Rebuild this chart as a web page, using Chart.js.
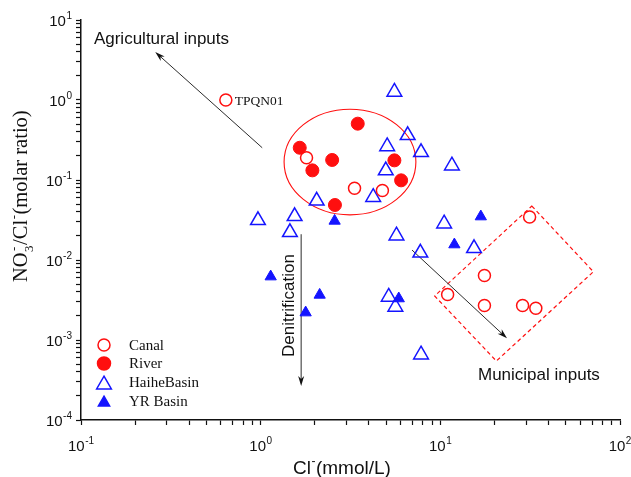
<!DOCTYPE html>
<html>
<head>
<meta charset="utf-8">
<script src="https://cdn.jsdelivr.net/npm/chart.js@4.4.1/dist/chart.umd.min.js"></script>
<style>
  html, body { margin: 0; padding: 0; background: #fff; }
  canvas { display: block; }
</style>
</head>
<body>
<canvas id="ratioChart" width="631" height="477"></canvas>
<script>
// Cl- (mmol/L) vs NO3-/Cl- (molar ratio)
const canalCl    = [0.64, 1.80, 3.33, 4.76, 31.4, 17.6, 10.98, 17.6, 28.7, 34.0];
const canalRatio = [1.0, 0.19, 0.079, 0.074, 0.0345, 0.0064, 0.0037, 0.0027, 0.0027, 0.0025];

const riverCl    = [1.65, 3.47, 2.50, 1.94, 5.55, 6.05, 2.59];
const riverRatio = [0.253, 0.506, 0.178, 0.132, 0.176, 0.099, 0.0487];

const haiheCl    = [5.55, 6.58, 5.06, 7.81, 4.97, 4.23, 2.05, 11.6, 0.966, 1.545, 1.455, 10.5, 5.7, 7.74, 15.4, 5.16, 5.62, 7.81];
const haiheRatio = [1.26, 0.362, 0.263, 0.222, 0.131, 0.061, 0.055, 0.151, 0.0313, 0.0352, 0.0222, 0.0284, 0.0201, 0.0123, 0.0140, 0.00345, 0.00259, 0.000656];

const yrCl    = [2.58, 1.137, 2.13, 1.78, 16.8, 11.97, 5.87];
const yrRatio = [0.0308, 0.0062, 0.00366, 0.0022, 0.0349, 0.0156, 0.0033];

// axis decades and their exponent labels
const xDecades = [0.1, 1, 10, 100];
const xExpLabels = ['-1', '0', '1', '2'];
const yDecades = [1e-4, 1e-3, 1e-2, 1e-1, 1, 10];
const yExpLabels = ['-4', '-3', '-2', '-1', '0', '1'];

// annotations, in data units
const groupEllipse = { x: [1.35, 7.31], y: [0.0367, 0.767] };
const municipalBox = [[32.3, 0.0473], [71.1, 0.00714], [20.5, 0.000546], [9.3, 0.00355]];
const arrows = [
    { from: [1.02, 0.253], to: [0.259, 3.98] },
    { from: [1.68, 0.021], to: [1.68, 0.000266] },
    { from: [6.96, 0.0133], to: [23.5, 0.00105] }
];
const notes = [
    { text: 'Agricultural inputs', at: [0.118, 5.01], font: '17px "Liberation Sans", Arial, sans-serif', rotate: false },
    { text: 'TPQN01', at: [0.717, 0.87], font: '13.5px "Liberation Serif", "Times New Roman", serif', rotate: false },
    { text: 'Municipal inputs', at: [16.2, 0.000316], font: '17px "Liberation Sans", Arial, sans-serif', rotate: false },
    { text: 'Denitrification', at: [1.525, 0.000613], font: '17px "Liberation Sans", Arial, sans-serif', rotate: true }
];

const RED = '#ff0f0f';
const BLUE = '#1414ff';
const SANS = '"Liberation Sans", Arial, sans-serif';
const SERIF = '"Liberation Serif", "Times New Roman", serif';

function pts(xs, ys) {
    return xs.map((x, i) => ({ x: x, y: ys[i] }));
}

function withMinors(decades) {
    const out = [];
    decades.forEach((d, i) => {
        if (i === decades.length - 1) { out.push(d); return; }
        for (let k = 1; k <= 9; k++) out.push(+(d * k).toPrecision(3));
    });
    return out;
}

const legendItems = [
    { label: 'Canal', style: 'circle', radius: 6, fill: false, color: RED },
    { label: 'River', style: 'circle', radius: 6.5, fill: true, color: RED },
    { label: 'HaiheBasin', style: 'triangle', radius: 8.5, fill: false, color: BLUE },
    { label: 'YR Basin', style: 'triangle', radius: 6.5, fill: true, color: BLUE }
];

function drawMarker(ctx, style, radius, x, y) {
    if (Chart.helpers && Chart.helpers.drawPoint) {
        Chart.helpers.drawPoint(ctx, { pointStyle: style, radius: radius, borderWidth: ctx.lineWidth, rotation: 0 }, x, y);
        return;
    }
    ctx.beginPath();
    if (style === 'circle') {
        ctx.arc(x, y, radius, 0, Math.PI * 2);
    } else {
        ctx.moveTo(x, y - radius);
        ctx.lineTo(x + radius * 0.866, y + radius / 2);
        ctx.lineTo(x - radius * 0.866, y + radius / 2);
        ctx.closePath();
    }
    ctx.fill();
    ctx.stroke();
}

function drawArrow(ctx, x0, y0, x1, y1) {
    const a = Math.atan2(y1 - y0, x1 - x0);
    const L = 10, W = 3;
    ctx.beginPath();
    ctx.moveTo(x0, y0);
    ctx.lineTo(x1 - L * 0.6 * Math.cos(a), y1 - L * 0.6 * Math.sin(a));
    ctx.stroke();
    ctx.beginPath();
    ctx.moveTo(x1, y1);
    ctx.lineTo(x1 - L * Math.cos(a) + W * Math.sin(a), y1 - L * Math.sin(a) - W * Math.cos(a));
    ctx.lineTo(x1 - L * 0.7 * Math.cos(a), y1 - L * 0.7 * Math.sin(a));
    ctx.lineTo(x1 - L * Math.cos(a) - W * Math.sin(a), y1 - L * Math.sin(a) + W * Math.cos(a));
    ctx.closePath();
    ctx.fill();
}

// "10" with a raised exponent
function drawPower(ctx, exp, x, y, align) {
    ctx.font = '15px ' + SANS;
    const wb = ctx.measureText('10').width;
    ctx.font = '10px ' + SANS;
    const we = ctx.measureText(exp).width;
    const total = wb + 0.5 + we;
    const left = align === 'center' ? x - total / 2 : x - total;
    ctx.textAlign = 'left';
    ctx.textBaseline = 'alphabetic';
    ctx.font = '15px ' + SANS;
    ctx.fillText('10', left, y);
    ctx.font = '10px ' + SANS;
    ctx.fillText(exp, left + wb + 0.5, y - 7);
}

const annotationPlugin = {
    id: 'annotations',
    beforeDatasetsDraw(chart) {
        const ctx = chart.ctx;
        const xs = chart.scales.x, ys = chart.scales.y;
        ctx.save();

        // red ellipse round the river cluster
        const ex0 = xs.getPixelForValue(groupEllipse.x[0]), ex1 = xs.getPixelForValue(groupEllipse.x[1]);
        const ey0 = ys.getPixelForValue(groupEllipse.y[0]), ey1 = ys.getPixelForValue(groupEllipse.y[1]);
        ctx.strokeStyle = RED;
        ctx.lineWidth = 1.1;
        ctx.beginPath();
        ctx.ellipse((ex0 + ex1) / 2, (ey0 + ey1) / 2, Math.abs(ex1 - ex0) / 2, Math.abs(ey1 - ey0) / 2, 0, 0, Math.PI * 2);
        ctx.stroke();

        // dashed box round the municipal samples
        ctx.setLineDash([4, 3]);
        ctx.lineWidth = 1.2;
        ctx.beginPath();
        municipalBox.forEach((p, i) => {
            const px = xs.getPixelForValue(p[0]), py = ys.getPixelForValue(p[1]);
            if (i === 0) ctx.moveTo(px, py); else ctx.lineTo(px, py);
        });
        ctx.closePath();
        ctx.stroke();
        ctx.setLineDash([]);

        // arrows
        ctx.strokeStyle = '#2b2b2b';
        ctx.fillStyle = '#111';
        ctx.lineWidth = 1;
        arrows.forEach(a => {
            drawArrow(ctx,
                xs.getPixelForValue(a.from[0]), ys.getPixelForValue(a.from[1]),
                xs.getPixelForValue(a.to[0]), ys.getPixelForValue(a.to[1]));
        });

        // notes
        ctx.fillStyle = '#111';
        ctx.textAlign = 'left';
        ctx.textBaseline = 'alphabetic';
        notes.forEach(n => {
            const px = xs.getPixelForValue(n.at[0]), py = ys.getPixelForValue(n.at[1]);
            ctx.font = n.font;
            if (n.rotate) {
                ctx.save();
                ctx.translate(px, py);
                ctx.rotate(-Math.PI / 2);
                ctx.fillText(n.text, 0, 0);
                ctx.restore();
            } else {
                ctx.fillText(n.text, px, py);
            }
        });
        ctx.restore();
    },
    afterDraw(chart) {
        const ctx = chart.ctx;
        const xs = chart.scales.x, ys = chart.scales.y;
        const area = chart.chartArea;
        ctx.save();
        ctx.fillStyle = '#111';

        // tick labels
        xDecades.forEach((v, i) => drawPower(ctx, xExpLabels[i], xs.getPixelForValue(v), area.bottom + 31, 'center'));
        yDecades.forEach((v, i) => drawPower(ctx, yExpLabels[i], area.left - 9, ys.getPixelForValue(v) + 6, 'right'));

        // x title: Cl-(mmol/L)
        let cx = 293;
        const by = 474;
        ctx.textAlign = 'left';
        ctx.textBaseline = 'alphabetic';
        ctx.font = '19px ' + SANS;
        ctx.fillText('Cl', cx, by);
        cx += ctx.measureText('Cl').width + 0.5;
        ctx.font = '12px ' + SANS;
        ctx.fillText('-', cx, by - 9);
        cx += ctx.measureText('-').width + 0.5;
        ctx.font = '19px ' + SANS;
        ctx.fillText('(mmol/L)', cx, by);

        // y title: NO3-/Cl-(molar ratio)
        ctx.translate(27, 282);
        ctx.rotate(-Math.PI / 2);
        let ty = 0;
        ctx.font = '20.5px ' + SERIF;
        ctx.fillText('NO', ty, 0);
        ty += ctx.measureText('NO').width;
        ctx.font = '13px ' + SERIF;
        ctx.fillText('3', ty + 0.5, 6);
        ctx.fillText('-', ty + 1.5, -9);
        ty += ctx.measureText('3').width + 1;
        ctx.font = '20.5px ' + SERIF;
        ctx.fillText('/Cl', ty, 0);
        ty += ctx.measureText('/Cl').width;
        ctx.font = '13px ' + SERIF;
        ctx.fillText('-', ty + 0.5, -9);
        ty += ctx.measureText('-').width + 1;
        ctx.font = '20.5px ' + SERIF;
        ctx.fillText('(molar ratio)', ty, 0);
        ctx.restore();

        // legend in the lower left of the plot
        ctx.save();
        const lx = area.left + 23;
        const rows = [area.bottom - 75, area.bottom - 56.5, area.bottom - 37.5, area.bottom - 19];
        legendItems.forEach((item, i) => {
            ctx.lineWidth = 1.5;
            ctx.strokeStyle = item.color;
            ctx.fillStyle = item.fill ? item.color : 'rgba(0,0,0,0)';
            const yOff = item.style === 'triangle' ? item.radius / 4 : 0;
            drawMarker(ctx, item.style, item.radius, lx, rows[i] + yOff);
            ctx.fillStyle = '#111';
            ctx.font = '15px ' + SERIF;
            ctx.textAlign = 'left';
            ctx.textBaseline = 'middle';
            ctx.fillText(item.label, area.left + 48, rows[i] + 1);
        });
        ctx.restore();
    }
};

function logAxis(min, max, values, fitFn) {
    return {
        type: 'logarithmic',
        min: min,
        max: max,
        afterBuildTicks: s => { s.ticks = values.map(v => ({ value: v })); },
        ticks: { autoSkip: false, callback: () => '', font: { size: 1 }, padding: 0 },
        grid: { drawOnChartArea: false, drawTicks: true, tickLength: 5, tickWidth: 1.2, tickColor: '#111' },
        border: { display: true, color: '#111', width: 1.5 },
        afterFit: fitFn
    };
}

new Chart(document.getElementById('ratioChart').getContext('2d'), {
    type: 'scatter',
    data: {
        datasets: [
            {
                label: 'Canal',
                data: pts(canalCl, canalRatio),
                pointStyle: 'circle',
                pointRadius: 6,
                pointBorderWidth: 1.5,
                borderColor: RED,
                backgroundColor: 'rgba(0,0,0,0)'
            },
            {
                label: 'River',
                data: pts(riverCl, riverRatio),
                pointStyle: 'circle',
                pointRadius: 6.5,
                pointBorderWidth: 1,
                borderColor: RED,
                backgroundColor: RED
            },
            {
                label: 'HaiheBasin',
                data: pts(haiheCl, haiheRatio),
                pointStyle: 'triangle',
                pointRadius: 8.5,
                pointBorderWidth: 1.5,
                borderColor: BLUE,
                backgroundColor: 'rgba(0,0,0,0)'
            },
            {
                label: 'YR Basin',
                data: pts(yrCl, yrRatio),
                pointStyle: 'triangle',
                pointRadius: 6.5,
                pointBorderWidth: 1,
                borderColor: BLUE,
                backgroundColor: BLUE
            }
        ]
    },
    options: {
        responsive: false,
        animation: false,
        devicePixelRatio: 1,
        layout: { padding: { left: 0, right: 11, top: 20, bottom: 0 } },
        plugins: {
            legend: { display: false },
            tooltip: { enabled: false }
        },
        scales: {
            x: logAxis(0.1, 100, withMinors(xDecades), s => { s.height = 57; }),
            y: logAxis(1e-4, 10, withMinors(yDecades), s => { s.width = 81; })
        }
    },
    plugins: [annotationPlugin]
});
</script>
</body>
</html>
